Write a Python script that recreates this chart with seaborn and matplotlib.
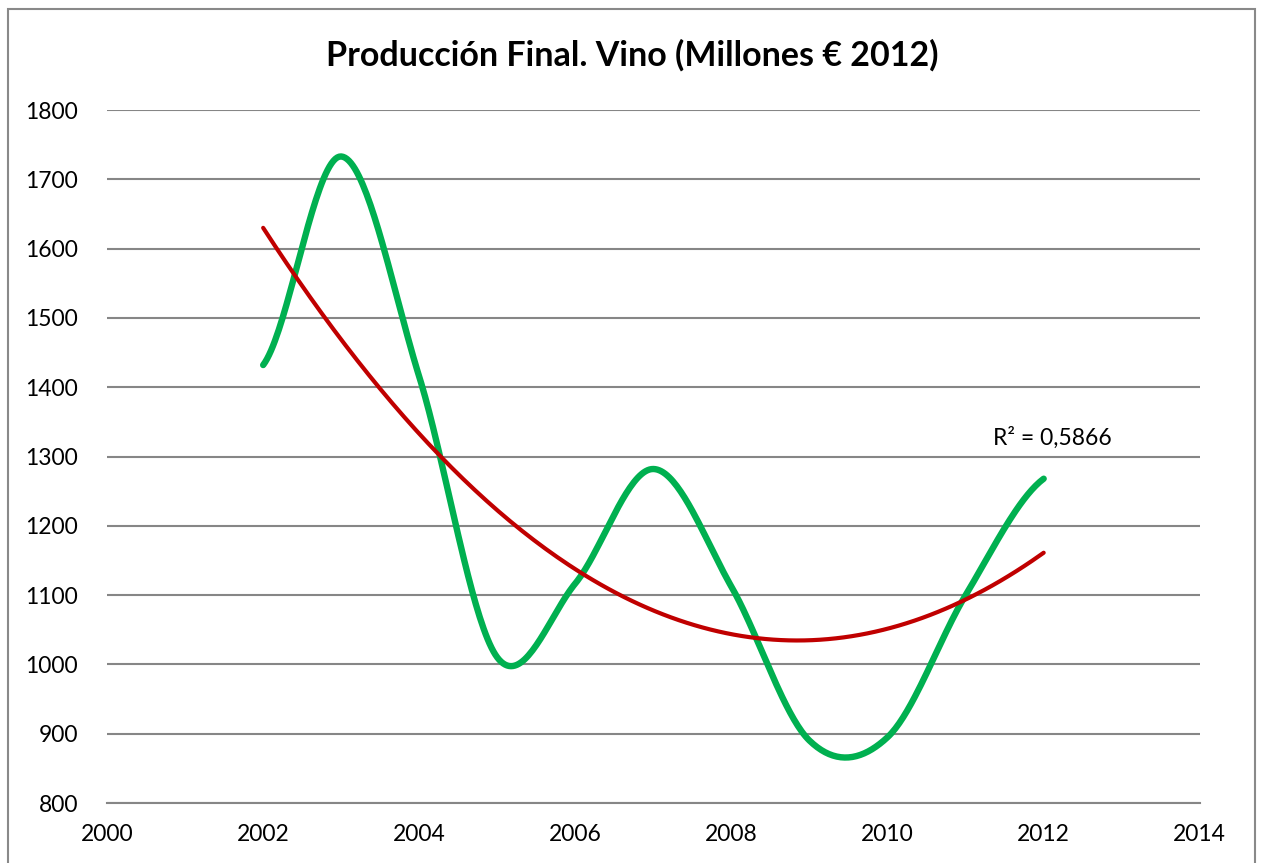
import numpy as np
import pandas as pd
import seaborn as sns
import matplotlib
matplotlib.use('Agg')
import matplotlib.pyplot as plt
from matplotlib.patches import Rectangle


years = [2002, 2003, 2004, 2005, 2006, 2007, 2008, 2009, 2010, 2011, 2012]
produccion = [1432, 1733, 1415, 1010, 1117, 1282, 1112, 890, 895, 1100, 1268]
x_ticks = [2000, 2002, 2004, 2006, 2008, 2010, 2012, 2014]
y_ticks = [800, 900, 1000, 1100, 1200, 1300, 1400, 1500, 1600, 1700, 1800]
r2_label = 'R² = 0,5866'
title = 'Producción Final. Vino (Millones € 2012)'

GREEN = '#00B050'
RED = '#C00000'
GRID = '#868686'


def excel_smooth(x, y, steps=40):
    """Catmull-Rom style smoothing, like Excel's 'smoothed line' option."""
    x = np.asarray(x, float)
    y = np.asarray(y, float)
    n = len(x)
    m = np.empty(n)
    m[1:-1] = (y[2:] - y[:-2]) / 2
    m[0] = (y[1] - y[0]) / 2
    m[-1] = (y[-1] - y[-2]) / 2
    xs, ys = [], []
    for i in range(n - 1):
        t = np.linspace(0, 1, steps, endpoint=(i == n - 2))
        h00 = 2 * t**3 - 3 * t**2 + 1
        h10 = t**3 - 2 * t**2 + t
        h01 = -2 * t**3 + 3 * t**2
        h11 = t**3 - t**2
        xs.append(x[i] + t * (x[i + 1] - x[i]))
        ys.append(h00 * y[i] + h10 * m[i] + h01 * y[i + 1] + h11 * m[i + 1])
    return np.concatenate(xs), np.concatenate(ys)


sns.set_style('white')
plt.rcParams['font.family'] = ['Lato', 'DejaVu Sans']
plt.rcParams['text.color'] = 'black'

fig = plt.figure(figsize=(12.64, 8.63), dpi=100)
ax = fig.add_axes([0.0847, 0.0695, 0.8645, 0.803])

# smoothed data line
sx, sy = excel_smooth(years, produccion)
smooth_df = pd.DataFrame({'year': sx, 'value': sy})
sns.lineplot(data=smooth_df, x='year', y='value', ax=ax, color=GREEN,
             linewidth=4.6, solid_capstyle='round', zorder=3)

# polynomial (order 2) trendline
coef = np.polyfit(years, produccion, 2)
tx = np.linspace(years[0], years[-1], 200)
trend_df = pd.DataFrame({'year': tx, 'value': np.polyval(coef, tx)})
sns.lineplot(data=trend_df, x='year', y='value', ax=ax, color=RED,
             linewidth=3.0, solid_capstyle='round', zorder=4)

ax.text(2011.35, 1327, r2_label, fontsize=16.5, ha='left', va='center',
        color='black')

ax.set_xlim(x_ticks[0], x_ticks[-1])
ax.set_ylim(y_ticks[0], y_ticks[-1])
ax.set_xticks(x_ticks)
ax.set_yticks(y_ticks)
ax.tick_params(axis='both', length=0, labelsize=16.5, labelcolor='black')
ax.tick_params(axis='y', pad=21)
ax.tick_params(axis='x', pad=15)
ax.set_xlabel('')
ax.set_ylabel('')
ax.yaxis.grid(True, color=GRID, linewidth=1.5)
ax.set_axisbelow(True)
for side in ['left', 'right', 'top']:
    ax.spines[side].set_visible(False)
ax.spines['bottom'].set_color(GRID)
ax.spines['bottom'].set_linewidth(1.5)

fig.text(0.5, 0.936, title, ha='center', va='center', fontsize=24.5,
         fontweight='bold', color='black')

# chart frame
fig.add_artist(Rectangle((0.0063, -0.05), 0.9866, 1.0396, transform=fig.transFigure,
                         fill=False, edgecolor='#898989', linewidth=1.5))

plt.savefig('out.png', dpi=100)
plt.close(fig)
